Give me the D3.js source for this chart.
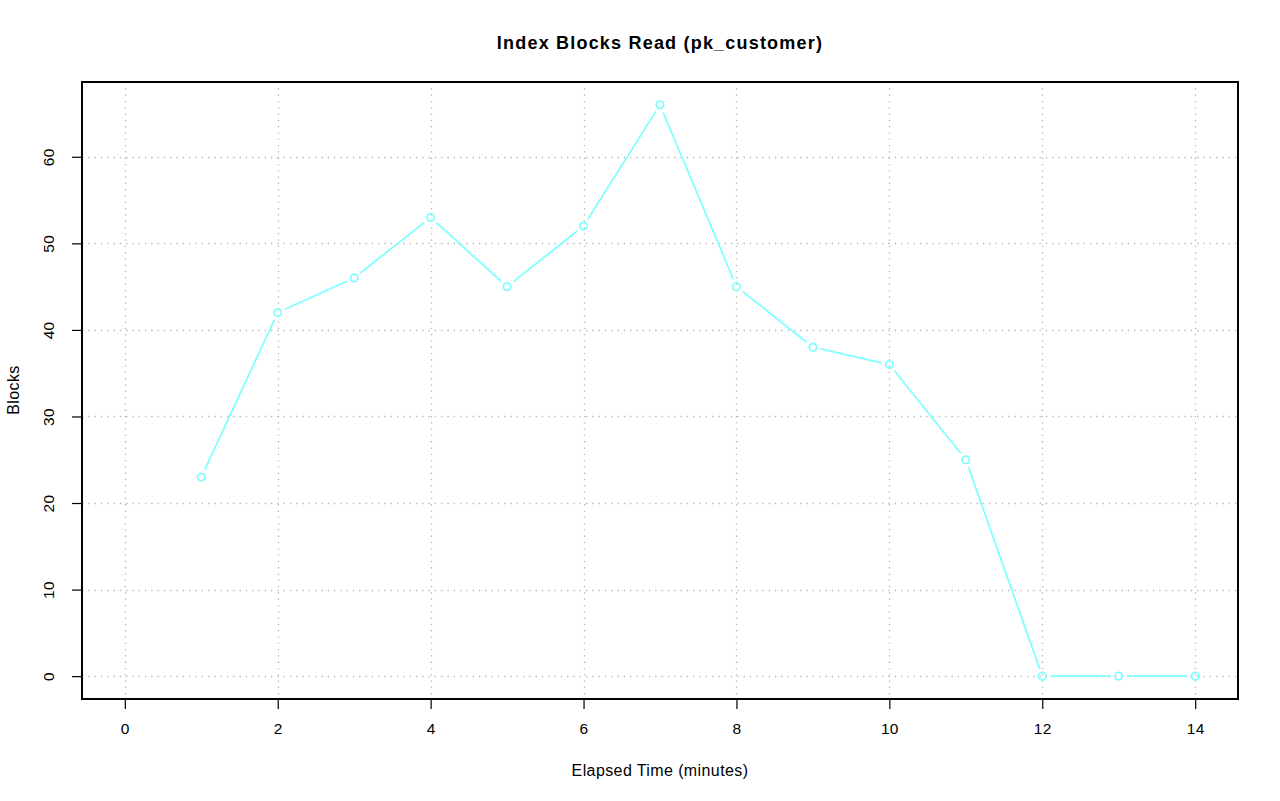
<!DOCTYPE html>
<html><head><meta charset="utf-8">
<script src="https://cdn.jsdelivr.net/npm/d3@7"></script>
<style>body{margin:0;background:#fff}svg{display:block}</style>
</head><body>
<script>
const minutes = [1,2,3,4,5,6,7,8,9,10,11,12,13,14];
const blocks = [23,42,46,53,45,52,66,45,38,36,25,0,0,0];
const xTicks = [0,2,4,6,8,10,12,14];
const yTicks = [0,10,20,30,40,50,60];
const title = "Index Blocks Read (pk_customer)";
const xLabel = "Elapsed Time (minutes)";
const yLabel = "Blocks";

const FONT = "'Liberation Sans', Arial, Helvetica, sans-serif";
const W = 1280, H = 801;
const box = {l:82, r:1238, t:82, b:699};
const svg = d3.select("body").append("svg").attr("width",W).attr("height",H)
  .attr("font-family",FONT);

const x = d3.scaleLinear().domain([0-0.56, 14+0.56]).range([box.l, box.r]);
const y = d3.scaleLinear().domain([0-2.64, 66+2.64]).range([box.b, box.t]);

// grid
const grid = svg.append("g").attr("stroke","#b4b4b4").attr("stroke-width",1.3).attr("stroke-dasharray","1.3,5");
grid.selectAll("line.v").data(xTicks).join("line")
  .attr("x1",d=>Math.round(x(d))+0.5).attr("x2",d=>Math.round(x(d))+0.5).attr("y1",box.t).attr("y2",box.b);
grid.selectAll("line.h").data(yTicks).join("line")
  .attr("y1",d=>Math.round(y(d))+0.5).attr("y2",d=>Math.round(y(d))+0.5).attr("x1",box.l).attr("x2",box.r);

// axes
const xAxis = d3.axisBottom(x).tickValues(xTicks).tickSize(10).tickPadding(14).tickFormat(d3.format("d"));
const gx = svg.append("g").attr("transform",`translate(0,${box.b})`).call(xAxis)
  .attr("font-family",FONT).attr("font-size",15.5);
gx.select(".domain").remove();
gx.selectAll("line").attr("stroke","#000").attr("stroke-width",1.2);
gx.selectAll("text").attr("fill","#000").attr("letter-spacing",0.3);

const yAxis = d3.axisLeft(y).tickValues(yTicks).tickSize(10).tickFormat(d3.format("d"));
const gy = svg.append("g").attr("transform",`translate(${box.l},0)`).call(yAxis)
  .attr("font-family",FONT).attr("font-size",15.5);
gy.select(".domain").remove();
gy.selectAll("line").attr("stroke","#000").attr("stroke-width",1.2);
gy.selectAll("text").attr("fill","#000").attr("letter-spacing",0.3)
  .attr("x",0).attr("y",0).attr("dy","0.36em").attr("text-anchor","middle")
  .attr("transform","translate(-34,0) rotate(-90)");

// box
svg.append("rect").attr("x",box.l).attr("y",box.t).attr("width",box.r-box.l).attr("height",box.b-box.t)
  .attr("fill","none").attr("stroke","#000").attr("stroke-width",2);

// line segments with gaps (type "b")
const col = "#80ffff";
const pts = minutes.map((m,i)=>[x(m), y(blocks[i])]);
const gap = 8;
const segs = [];
for (let i=0;i<pts.length-1;i++){
  const [x1,y1]=pts[i],[x2,y2]=pts[i+1];
  const dx=x2-x1, dy=y2-y1, L=Math.hypot(dx,dy);
  if (L>2*gap) segs.push([x1+dx/L*gap, y1+dy/L*gap, x2-dx/L*gap, y2-dy/L*gap]);
}
svg.append("g").selectAll("line").data(segs).join("line")
  .attr("x1",d=>d[0]).attr("y1",d=>d[1]).attr("x2",d=>d[2]).attr("y2",d=>d[3])
  .attr("stroke",col).attr("stroke-width",1.8);
svg.append("g").selectAll("circle").data(pts).join("circle")
  .attr("cx",d=>d[0]).attr("cy",d=>d[1]).attr("r",3.7)
  .attr("fill","none").attr("stroke",col).attr("stroke-width",1.8);

// titles
svg.append("text").attr("x",660).attr("y",49).attr("text-anchor","middle")
  .attr("font-size",18).attr("font-weight","bold").attr("letter-spacing",1.2).text(title);
svg.append("text").attr("x",660).attr("y",776).attr("text-anchor","middle")
  .attr("font-size",16).attr("letter-spacing",0.4).text(xLabel);
svg.append("text").attr("transform","translate(19,390) rotate(-90)").attr("text-anchor","middle")
  .attr("font-size",16).attr("letter-spacing",0.4).text(yLabel);
</script>
</body></html>
